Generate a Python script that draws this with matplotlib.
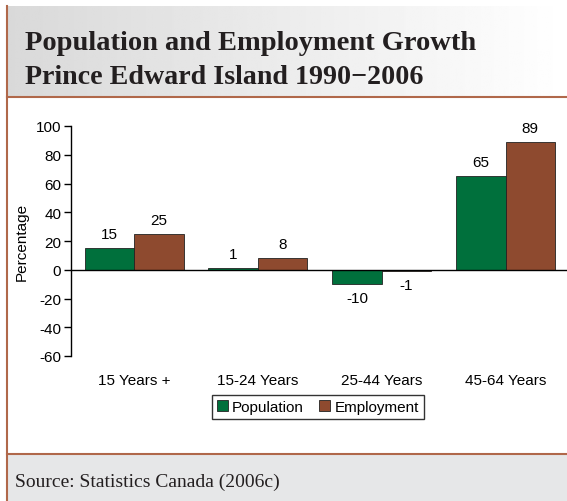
import matplotlib
matplotlib.use('Agg')
import matplotlib.pyplot as plt
import numpy as np
from matplotlib.patches import Patch

categories = ['15 Years +', '15-24 Years', '25-44 Years', '45-64 Years']
population = [15, 1, -10, 65]
employment = [25, 8, -1, 89]
yticks = [-60, -40, -20, 0, 20, 40, 60, 80, 100]

green = '#00703c'
brown = '#8e4a2f'
border = '#b0684a'

plt.rcParams['font.family'] = 'Liberation Sans'
plt.rcParams['axes.unicode_minus'] = False

fig = plt.figure(figsize=(5.67, 5.02), dpi=100)

# background panels in pixel coords
bg = fig.add_axes([0, 0, 1, 1], zorder=-5)
bg.axis('off')
grad = np.linspace(0.85, 1.0, 256).reshape(1, -1)
bg.imshow(grad, extent=[7, 567, 98, 7], aspect='auto', cmap='gray', vmin=0, vmax=1)
bg.add_patch(plt.Rectangle((7, 455), 560, 47, color='#e6e7e8', lw=0))
bg.plot([7, 567], [98, 98], color=border, lw=1.5)
bg.plot([7, 567], [455, 455], color=border, lw=1.5)
bg.plot([7, 7], [7, 502], color=border, lw=1.5)
bg.set_xlim(0, 567)
bg.set_ylim(502, 0)

fig.text(25 / 567, 1 - 50 / 502, 'Population and Employment Growth', family='Liberation Serif',
         weight='bold', fontsize=20.5, color='#231f20', va='baseline')
fig.text(25 / 567, 1 - 84 / 502, 'Prince Edward Island 1990\u22122006', family='Liberation Serif',
         weight='bold', fontsize=20.2, color='#231f20', va='baseline')
fig.text(15 / 567, 1 - 487 / 502, 'Source: Statistics Canada (2006c)', family='Liberation Serif',
         fontsize=14, color='#231f20', va='baseline')

ax = fig.add_axes([71 / 567, 1 - 357 / 502, 496 / 567, 230 / 502])
x = np.arange(len(categories))
w = 0.4
ax.bar(x - w / 2, population, w, color=green, edgecolor='#222222', lw=0.6, label='Population')
ax.bar(x + w / 2, employment, w, color=brown, edgecolor='#222222', lw=0.6, label='Employment')
ax.axhline(0, color='black', lw=1)
for xi, v in zip(x - w / 2, population):
    ax.annotate(str(v), (xi, v), xytext=(0, 5 if v >= 0 else -5), textcoords='offset points',
                ha='center', va='bottom' if v >= 0 else 'top', fontsize=11)
for xi, v in zip(x + w / 2, employment):
    ax.annotate(str(v), (xi, v), xytext=(0, 5 if v >= 0 else -5), textcoords='offset points',
                ha='center', va='bottom' if v >= 0 else 'top', fontsize=11)

ax.set_xlim(-0.51, 3.496)
ax.set_ylim(-60, 100)
ax.set_yticks(yticks)
ax.set_xticks(x)
ax.set_xticklabels(categories, fontsize=11)
ax.tick_params(axis='x', length=0, pad=12)
ax.tick_params(axis='y', labelsize=11, length=5, width=1, pad=2)
for s in ['top', 'right', 'bottom']:
    ax.spines[s].set_visible(False)
ax.spines['left'].set_linewidth(1)
ax.set_facecolor('none')
ax.set_ylabel('Percentage', fontsize=11, labelpad=5)

handles = [Patch(facecolor=green, edgecolor='#222222', lw=0.6), Patch(facecolor=brown, edgecolor='#222222', lw=0.6)]
fig.legend(handles, ['Population', 'Employment'], loc='center', bbox_to_anchor=(318 / 567, 1 - 408 / 502),
           ncol=2, frameon=True, fancybox=False, edgecolor='black', fontsize=11,
           handlelength=0.7, handleheight=0.7, handletextpad=0.3, columnspacing=1.0,
           borderpad=0.35, borderaxespad=0)

fig.savefig('out.png', dpi=100)
